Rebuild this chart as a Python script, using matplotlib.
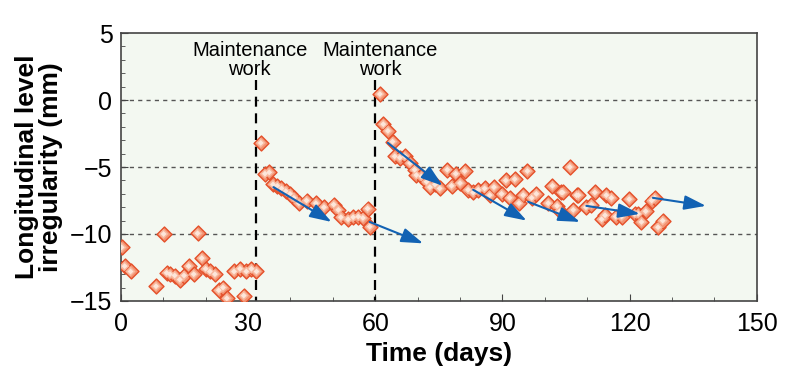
import numpy as np
import matplotlib
matplotlib.use('Agg')
import matplotlib.pyplot as plt
from matplotlib.ticker import MultipleLocator

plt.rcParams['font.family'] = ['Liberation Sans', 'DejaVu Sans']

# measured irregularity, before the first maintenance
days_a = [0.2, 0.9, 2.3, 8.3, 10.1, 10.8, 11.6, 12.7, 13.9, 14.9, 16.0, 17.2, 18.1,
          19.1, 20.0, 21.0, 22.2, 23.1, 24.1, 25.0, 26.7, 28.1, 29.0, 29.6, 30.8, 32.0]
vals_a = [-11.0, -12.4, -12.8, -13.9, -10.0, -12.9, -13.0, -13.1, -13.4, -13.1, -12.4,
          -13.0, -9.95, -11.8, -12.6, -12.8, -13.0, -14.2, -14.0, -14.8, -12.8, -12.6,
          -14.6, -12.8, -12.6, -12.8]

# between the two maintenance works
days_b = [33.0, 34.0, 35.0, 35.9, 36.9, 37.9, 38.9, 39.9, 40.8, 42.0, 43.8, 46.0, 47.9,
          50.2, 51.3, 51.9, 53.6, 54.8, 56.0, 57.1, 58.2, 58.7]
vals_b = [-3.2, -5.5, -5.4, -6.3, -6.4, -6.6, -6.8, -7.0, -7.3, -7.7, -7.5, -7.7, -8.0,
          -7.8, -8.2, -8.75, -8.9, -8.75, -8.7, -8.8, -8.1, -9.45]

# after the second maintenance
days_c = [61.1, 61.9, 63.0, 64.1, 64.6, 65.8, 67.0, 68.2, 69.3, 69.7, 70.9, 72.1, 72.9,
          74.1, 75.2, 77.0, 78.0, 79.0, 80.0, 81.1, 81.9, 83.1, 84.3, 85.8, 87.0, 88.0,
          89.8, 90.8, 91.7, 92.9, 93.9, 94.9, 95.9, 96.9, 98.0, 100.8, 101.8, 102.9,
          103.5, 103.9, 104.2, 105.9, 106.7, 107.5, 107.9, 109.7, 111.0, 111.8, 113.4,
          114.2, 114.5, 115.7, 116.7, 118.1, 119.9, 121.2, 122.0, 122.8, 123.8, 125.2,
          125.9, 126.7, 127.8]
vals_c = [0.45, -1.8, -2.3, -3.1, -4.2, -4.3, -4.2, -4.7, -5.2, -5.6, -5.7, -6.1, -6.5,
          -6.3, -6.6, -5.2, -6.4, -5.5, -6.2, -5.3, -6.7, -6.9, -6.7, -6.6, -7.1, -6.5,
          -7.0, -6.0, -7.3, -5.9, -7.7, -7.1, -5.3, -7.3, -7.0, -7.7, -6.4, -7.9,
          -8.3, -6.9, -6.9, -5.0, -8.2, -7.1, -7.1, -8.0, -7.8, -6.9, -8.9,
          -8.6, -7.1, -7.3, -8.7, -8.7, -7.4, -8.5, -8.5, -9.1, -8.3, -7.5,
          -7.3, -9.5, -9.0]

# trend arrows: (start day, start value, end day, end value)
arrows = [(36.0, -6.5, 49.7, -9.1),
          (58.7, -9.1, 71.3, -10.7),
          (63.0, -3.2, 75.9, -6.4),
          (83.1, -6.7, 95.7, -9.0),
          (96.1, -7.6, 108.3, -9.1),
          (109.8, -7.9, 122.4, -8.5),
          (125.5, -7.3, 138.0, -7.9)]

maint_days = [32, 60]
maint_text_x = [30.4, 61.2]

fig = plt.figure(figsize=(8, 3.72), dpi=100)
ax = fig.add_axes([0.151, 0.191, 0.795, 0.72])
ax.set_facecolor('#F3F8F1')

for y in [0, -5, -10]:
    ax.axhline(y, color='#555555', lw=1.0, ls=(0, (3, 3)), zorder=1)

for d in maint_days:
    ax.plot([d, d], [1.5, -15], color='black', lw=1.6, ls=(0, (4.5, 3)), zorder=2)

days = days_a + days_b + days_c
vals = vals_a + vals_b + vals_c
ax.scatter(days, vals, s=58, marker='D', facecolor='#F39372', edgecolor='#E4502A',
           linewidths=1.0, zorder=3)
ax.scatter(days, vals, s=26, marker='D', facecolor='#F8B89E', edgecolor='none', zorder=4)
ax.scatter(days, vals, s=9, marker='D', facecolor='#FDE6DA', edgecolor='none', zorder=4)

for x0, y0, x1, y1 in arrows:
    ax.annotate('', xy=(x1, y1), xytext=(x0, y0),
                arrowprops=dict(arrowstyle='-|>,head_length=0.6,head_width=0.2',
                                color='#1262B3', lw=1.5, mutation_scale=22,
                                shrinkA=0, shrinkB=0), zorder=5)

for tx in maint_text_x:
    ax.text(tx, 1.9, 'Maintenance\nwork', ha='center', va='baseline', fontsize=14.5,
            linespacing=0.95, zorder=6)

ax.set_xlim(0, 150)
ax.set_ylim(-15, 5)
ax.xaxis.set_major_locator(MultipleLocator(30))
ax.xaxis.set_minor_locator(MultipleLocator(10))
ax.yaxis.set_major_locator(MultipleLocator(5))
ax.yaxis.set_minor_locator(MultipleLocator(1))
ax.tick_params(which='both', direction='in', top=False, right=False, labelsize=18,
               color='#444444')
ax.tick_params(which='major', length=5)
ax.tick_params(axis='x', which='major', pad=8)
ax.tick_params(axis='y', which='major', pad=6)
ax.tick_params(which='minor', length=3)
for s in ax.spines.values():
    s.set_color('#444444')
    s.set_linewidth(1.2)

ax.set_xlabel('Time (days)', fontsize=19, fontweight='bold', labelpad=4)
ax.set_ylabel('Longitudinal level\nirregularity (mm)', fontsize=19, fontweight='bold',
              linespacing=1.0)
ax.yaxis.set_label_coords(-0.091, 0.5)

fig.savefig('out.png', dpi=100)
